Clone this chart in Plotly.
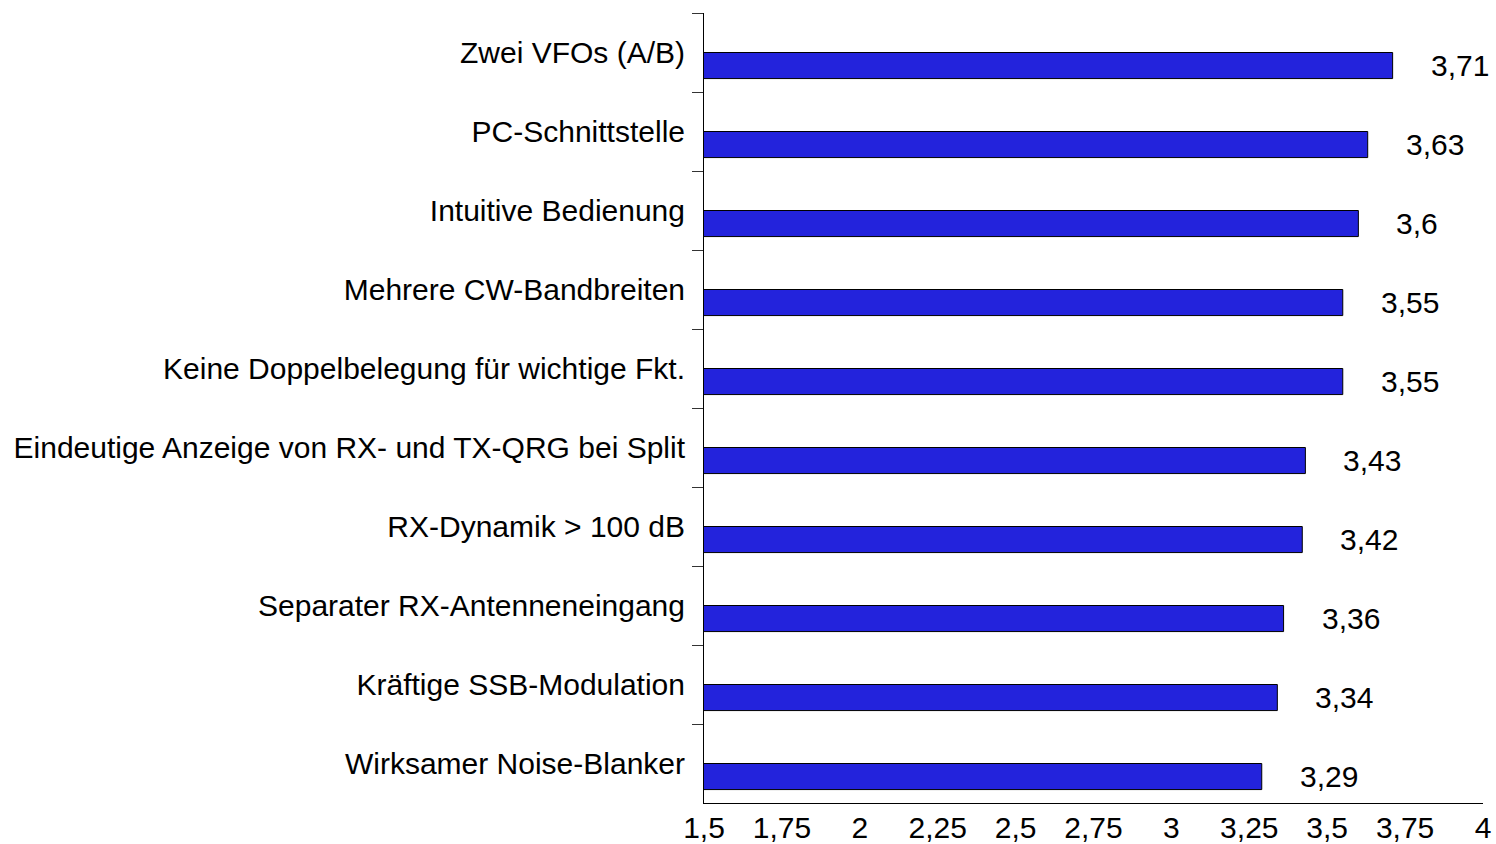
import plotly.graph_objects as go

# Data (top to bottom)
features = [
    "Zwei VFOs (A/B)",
    "PC-Schnittstelle",
    "Intuitive Bedienung",
    "Mehrere CW-Bandbreiten",
    "Keine Doppelbelegung für wichtige Fkt.",
    "Eindeutige Anzeige von RX- und TX-QRG bei Split",
    "RX-Dynamik > 100 dB",
    "Separater RX-Antenneneingang",
    "Kräftige SSB-Modulation",
    "Wirksamer Noise-Blanker",
]
scores = [3.71, 3.63, 3.6, 3.55, 3.55, 3.43, 3.42, 3.36, 3.34, 3.29]
x_ticks = [1.5, 1.75, 2, 2.25, 2.5, 2.75, 3, 3.25, 3.5, 3.75, 4]

FONT = "Liberation Sans, Arial, sans-serif"
BAR_COLOR = "#2323DC"
FS = 30

fig = go.Figure(go.Bar(
    x=scores,
    y=features,
    orientation="h",
    width=0.33,
    offset=0,
    marker=dict(color=BAR_COLOR, line=dict(color="black", width=1)),
    hoverinfo="skip",
))

# value labels right of each bar
for f, v in zip(features, scores):
    fig.add_annotation(
        x=v, y=f, xref="x", yref="y",
        text=f"{v:g}".replace(".", ","),
        showarrow=False, xanchor="left", yanchor="middle",
        xshift=36, yshift=-13,
        font=dict(size=FS, color="black", family=FONT),
    )

fig.update_layout(
    width=1496,
    height=844,
    paper_bgcolor="white",
    plot_bgcolor="white",
    font=dict(family=FONT, size=FS, color="black"),
    separators=",.",
    margin=dict(l=704, r=13, t=13, b=41),
    showlegend=False,
    xaxis=dict(
        range=[1.5, 4],
        tickvals=x_ticks,
        showgrid=False,
        zeroline=False,
        showline=True,
        linecolor="black",
        linewidth=1,
        ticks="",
        ticklabelstandoff=-2,
        tickfont=dict(size=FS),
        automargin=False,
    ),
    yaxis=dict(
        type="category",
        range=[9.5, -0.5],
        showgrid=False,
        zeroline=False,
        showline=True,
        linecolor="black",
        linewidth=1,
        ticks="outside",
        tickson="boundaries",
        ticklen=11,
        tickcolor="#333333",
        ticklabelstandoff=12,
        tickfont=dict(size=FS),
        automargin=False,
    ),
)

# drop the default page margin so the figure sits at the window origin
fig.write_html(
    "out.html",
    config={"displayModeBar": False},
    post_script="document.body.style.margin='0';",
)
